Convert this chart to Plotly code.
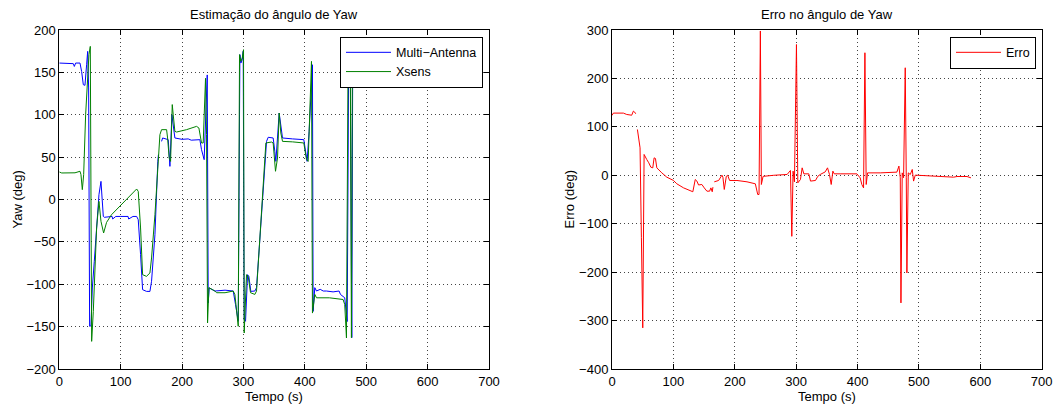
import math
import plotly.graph_objects as go

NaN = math.nan

# Yaw from the multi-antenna receiver (deg)
t_ma = [0, 9, 22.8, 24.5, 26.6, 33.7, 36.4, 39.1, 41.8, 44.5, 46.2, 47.8, 49.4, 51.6,
        53.8, 57, 59.2, 61.4, 64.6, 67.9, 70, 71.7, 73.3, 80, 86, 87, 92, 100, 107,
        112, 113, 120, 126, 128.6, 132.4, 135.7, 142, 147.6, 150.3, 155.8, 160.5, 161.5,
        163, 166.6, 168.3, 177.5, 180.2, 183.4, 185.6, 188.3, 200, 210, 215, 229, 231.7,
        234.4, 236, 241, 242.6, 244.2, 253.5, 270, 283.3, 287.1, 289.8, 291.5, 294.2,
        295.8, 298, 299.6, 301.2, 303.4, 306.7, 308.8, 312, 318.6, 321.3, 337.6, 340.3,
        348.4, 351.1, 352.8, 358.2, 360.9, 363.6, 380, 398.3, 401.6, 403.7, 407, 412.4,
        413.5, 416.2, 419, 425, 430, 435.2, 446, 455.8, 458, 465, 467.8, 469, 471.5,
        474, 476.5, 478, 482, 488, 489.5, 491, 530, 585]
yaw_ma = [161, 161, 160.3, 157, 161, 161, 151, 135.5, 134.7, 159, 174.8, 131.6, -149.6, -149,
          -104.4, -73, -49.4, -25.8, 5.7, 21.4, 1.8, -19.9, -21, -20, -20, -23, -20, -20, -20,
          -20, -23, -20, -20, -23.8, -65, -106.4, -108.4, -108.5, -96.5, -41.5, 45, 53,
          NaN, 68.6, 72.6, 70.6, 39.1, 100, 88.3, 72.6, 71, 71.5, 70, 70.6, 58.8,
          49, 47, 147, -122, -104.4, -108, -107, -108, -124, -136, -143.7, 171,
          161, 165, 175, -141.8, -143.7, -88.7, -90.7, -108.4, -108, -104, 68.6, 73.4,
          72.6, 56.8, 45, 102, 84.4, 72.6, 71.5, 70.6, 54.9, 45, 80.4, 159,
          -132, -104, -108, -106, -108, -108, -109, -108, -112, -116, -136, -144, 175,
          170, -163, 170, 160, 157, 135.5, 158, 158, 157]

# Yaw from the Xsens unit (deg)
t_xs = [0, 3.9, 25.6, 33.7, 35.3, 37.5, 39.7, 42.9, 46.2, 48.3, 50.5, 52.7, 55.4, 58.1,
        60.8, 64.6, 67.9, 72.2, 77, 85, 96, 107, 118, 126, 128.6, 132.4, 135.7, 142,
        147.6, 150.3, 155.8, 161.2, 163.9, 166.6, 174.8, 176.4, 179, 181.3, 184, 185.6,
        188.3, 191, 207.3, 223.6, 227.4, 231.7, 234.4, 238.2, 239.9, 241.5, 243.7,
        253.5, 256.2, 270, 283.3, 286, 288.7, 291.5, 293.6, 295.8, 298, 300.1, 301.2,
        305, 307.7, 311.5, 318.6, 321.3, 336.5, 345.7, 348.4, 352.2, 355.5, 358.2,
        360.9, 363.6, 380, 398.3, 402.7, 405.4, 410.8, 412.4, 416.2, 419, 440, 462.3,
        465, 467.8, 470.5, 474, 475.9, 477.5, 482, 488, 489.5, 491, 530, 585]
yaw_xs = [32.5, 31.3, 31.5, 33.3, 29.3, 11.6, 29.3, 100, 143.4, 171, 180.7, -167.4, -132, -80.8,
          -33.6, -2.2, -25.8, -39.5, -27, -18, -10, -2, 6, 12.4, 9.6, -33.6, -88.7, -90.7,
          -86.7, -69, -17.9, 37, 76.5, 82.4, 82.4, 72.6, 49, 45, 112, 100,
          80.4, 79.6, 82.4, 86.3, 84.4, 66.7, 66.7, 143, 76.5, -145.7, -104,
          -108, -110, -110, -108, -112, -132, -149.6, 170.9, 163, 167, 176.8, -157.5,
          -88.7, -90.7, -110, -112, -108, 66.7, 67.8, 66.7, 33.3, 49, 102,
          78.5, 68.6, 68, 66.7, 47, 45, 163, -134, -112, -116, -116, -118,
          -124, -163.4, 175, 170, -163, 175, 160, 157, 137, 158, 158, 157]

# Difference between the two estimates (deg)
t_err = [0, 2.2, 18.5, 24, 32.1, 34.8, 36.5, 38.7, 40,
         41.4, 43.6, 45.7, 47.9, 50.1, 52.3, 54.4, 56.6, 59.9, 63.2, 66.4, 68.6, 70.8,
         73, 81.1, 89.3, 100.2, 105.6, 116.5, 127.4, 131.7, 135.6, 138.3, 141, 146.4,
         150.3, 154.6, 159, 161.1, 163.3, 164.4, 165.5,
         166.6, 173.7, 179.1, 180.7, 182.9, 186.2, 188.4, 191.6, 203.6, 219.9, 233.5,
         237.4, 239.5, 241.7, 243.3, 246.1, 263.5, 285.3, 290.7, 292.9, 295, 297.2,
         300.5, 302.7, 307, 309.8, 312.5, 320.6, 323.4, 331.5, 335.3, 339.1, 347.3,
         351.1, 354.3, 357.1, 359.8, 362, 371.7, 398.9, 404.3, 407, 409.8, 412, 414.1,
         416.3, 437, 464.1, 467.4, 469.6, 470.7, 472.8, 475, 477.7, 479.4, 480.4,
         482.6, 485.9, 489.1, 491.3, 494, 502.2, 534.8, 556.5, 562, 578.3, 584.8]
err = [123.6, 128.4, 128.4, 125.6, 124, 132.5, 131, 127, NaN,
       94.6, 70.5, 56.7, -129, -315, 43, 36, 32.6, 25.8, 16.8, 15.4, 36, 34.7,
       15.4, 5.1, -3.9, -10.7, -17.6, -25.9, -32.8, -34, -8.7, -12, -20, -19,
       -26, -32.8, -32.8, -26, -34, -24.5, NaN,
       -13.5, -10.7, 0.3, -4, -29.3, -2.2, 0, -10.7, -10.7, -13.5, -17.6,
       -39.7, -39.7, 298, -19, -2.2, 0, 1.7, 10, -126, 8.6, -13.5,
       270, -15.6, -8.7, 15.4, 3, 3, -12, -10.7, -2, 1.6, 7,
       15.4, 1.6, -19, 8.6, 3, 3, 3, -5.3, -19, -26, 253, -19,
       5, 5, 6.5, 19, -5.3, -263.5, 5, -5, 222, -5, -201.5,
       5, 1.6, 12, -12, 0.3, -0.4, -1.8, -3.9, -2.5, -2.5, -5.3]

FONT = "Liberation Sans, Arial, Helvetica, sans-serif"
W, H = 1055, 405

fig = go.Figure()
fig.add_trace(go.Scatter(x=t_ma, y=yaw_ma, mode="lines", name="Multi\u2212Antenna",
                         line=dict(color="#0000ff", width=1), xaxis="x", yaxis="y",
                         legend="legend", connectgaps=False))
fig.add_trace(go.Scatter(x=t_xs, y=yaw_xs, mode="lines", name="Xsens",
                         line=dict(color="#008000", width=1), xaxis="x", yaxis="y",
                         legend="legend"))
fig.add_trace(go.Scatter(x=t_err, y=err, mode="lines", name="Erro",
                         line=dict(color="#ff0000", width=1), xaxis="x2", yaxis="y2",
                         legend="legend2", connectgaps=False))

def px_x(p):
    return p / W

def px_y(p):
    return 1 - p / H

axis_common = dict(
    showline=True, linecolor="black", linewidth=1, mirror="ticks",
    ticks="inside", ticklen=5, tickcolor="black", tickwidth=1,
    showgrid=True, gridcolor="#444444", gridwidth=1, griddash="1px,3px",
    zeroline=False, automargin=False,
    tickfont=dict(family=FONT, size=13, color="black"),
)

fig.update_layout(
    width=W, height=H, margin=dict(l=0, r=0, t=0, b=0),
    paper_bgcolor="white", plot_bgcolor="white",
    font=dict(family=FONT, size=13, color="black"),
    xaxis=dict(domain=[px_x(59.3), px_x(489)], range=[0, 700], dtick=100, anchor="y",
               **axis_common),
    yaxis=dict(domain=[px_y(369), px_y(30)], range=[-200, 200], dtick=50, anchor="x",
               **axis_common),
    xaxis2=dict(domain=[px_x(612), px_x(1041.7)], range=[0, 700], dtick=100, anchor="y2",
                **axis_common),
    yaxis2=dict(domain=[px_y(369), px_y(30)], range=[-400, 300], dtick=100, anchor="x2",
                **axis_common),
    legend=dict(x=px_x(483), xanchor="right", y=px_y(36.7), yanchor="top",
                bgcolor="white", bordercolor="black", borderwidth=1,
                font=dict(family=FONT, size=12.5, color="black"),
                tracegroupgap=0, itemwidth=45),
    legend2=dict(x=px_x(1036), xanchor="right", y=px_y(36.7), yanchor="top",
                 bgcolor="white", bordercolor="black", borderwidth=1,
                 font=dict(family=FONT, size=12.5, color="black"), itemwidth=45),
    showlegend=True,
)

annotations = [
    ("Estima\u00e7\u00e3o do \u00e2ngulo de Yaw", 274, 15, 0),
    ("Erro no \u00e2ngulo de Yaw", 827, 15, 0),
    ("Tempo (s)", 274, 396, 0),
    ("Tempo (s)", 827, 396, 0),
    ("Yaw (deg)", 17, 199.5, -90),
    ("Erro (deg)", 569, 199.5, -90),
]
for text, x, y, ang in annotations:
    fig.add_annotation(text=text, x=px_x(x), y=px_y(y), xref="paper", yref="paper",
                       xanchor="center", yanchor="middle", showarrow=False,
                       textangle=ang, font=dict(family=FONT, size=13, color="black"))

fig.write_html("out.html")
